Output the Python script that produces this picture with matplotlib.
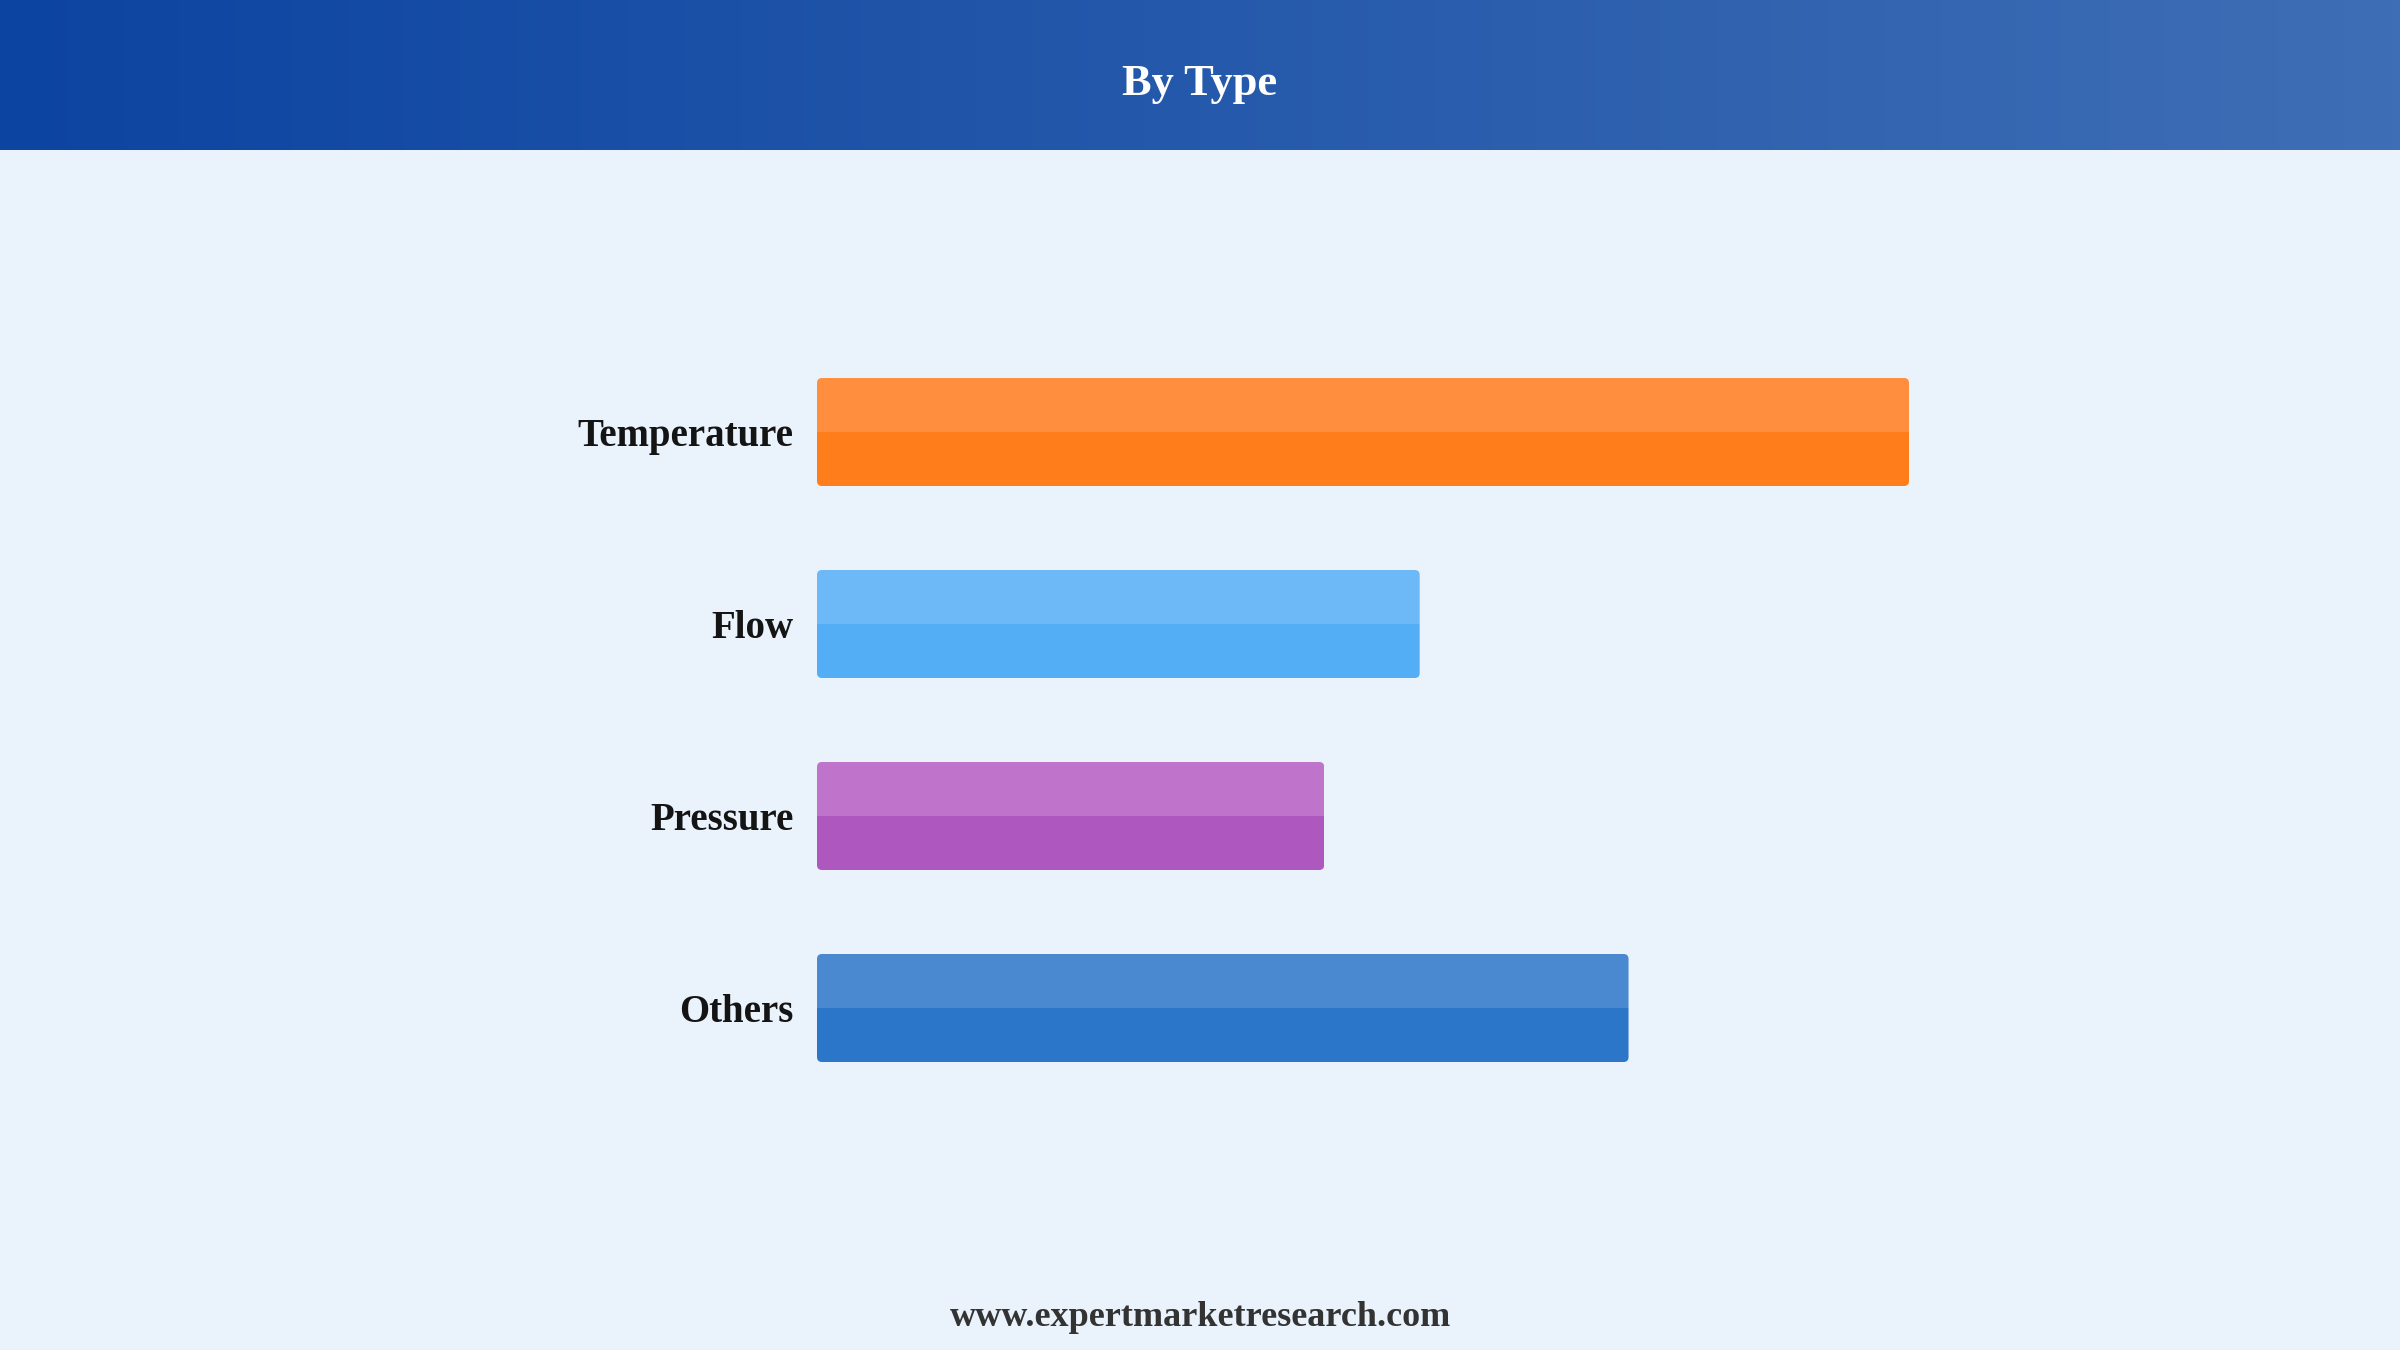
import numpy as np
import matplotlib
import matplotlib.pyplot as plt
from matplotlib.patches import FancyBboxPatch, Rectangle

matplotlib.rcParams["font.family"] = ["Liberation Serif", "DejaVu Serif"]

# =========================
# Data
# =========================
categories = ["Temperature", "Flow", "Pressure", "Others"]
values = [36.6, 20.2, 17.0, 27.2]
top_colors = ["#FF8F3F", "#6DB8F6", "#BF73CB", "#4A88CF"]
bottom_colors = ["#FF7E1B", "#53AEF5", "#AE58BF", "#2B76C8"]

title = "By Type"
footer = "www.expertmarketresearch.com"

W, H = 2400, 1350
fig = plt.figure(figsize=(24, 13.5), dpi=100)
fig.patch.set_facecolor("#EAF2FC")

# =========================
# Header gradient
# =========================
hdr_h = 150
hax = fig.add_axes([0, 1 - hdr_h / H, 1, hdr_h / H])
c0 = np.array([12, 68, 161]) / 255
c1 = np.array([62, 110, 181]) / 255
t = np.linspace(0, 1, 256)
grad = (c0[None, :] * (1 - t[:, None]) + c1[None, :] * t[:, None])[None, :, :]
hax.imshow(grad, aspect="auto", extent=[0, 1, 0, 1])
hax.set_xlim(0, 1)
hax.set_ylim(0, 1)
hax.axis("off")
fig.text(0.5, 1 - 84 / H, title, ha="center", va="center",
         fontsize=32, fontweight="bold", color="white")

# =========================
# Bars
# =========================
x0, x1 = 817, 1909
step = 192
yc0 = 432
ax = fig.add_axes([x0 / W, 1 - (yc0 + 3.5 * step) / H,
                   (x1 - x0) / W, 4 * step / H])
ax.set_facecolor("none")
ypos = np.arange(len(categories))
bh = 108 / step
bars = ax.barh(ypos, values, height=bh, color="none")
ax.set_xlim(0, max(values))
ax.set_ylim(len(categories) - 0.5, -0.5)

# px per data unit for corner rounding
px_x = (x1 - x0) / max(values)
px_y = step
r_px = 5

for b, ct, cb in zip(bars, top_colors, bottom_colors):
    bx, by, bw, bhh = b.get_x(), b.get_y(), b.get_width(), b.get_height()
    for col, clip_y in ((cb, by + bhh / 2), (ct, by)):
        p = FancyBboxPatch((bx, by), bw, bhh,
                           boxstyle=f"round,pad=0,rounding_size={r_px / px_x}",
                           mutation_aspect=px_x / px_y,
                           facecolor=col, edgecolor="none")
        ax.add_patch(p)
        clip = Rectangle((bx, clip_y), bw, bhh / 2, transform=ax.transData)
        p.set_clip_path(clip)

ax.set_yticks(ypos)
ax.set_yticklabels(categories, fontsize=28, fontweight="bold", color="#141414")
ax.tick_params(axis="y", length=0, pad=17)
ax.set_xticks([])
for s in ax.spines.values():
    s.set_visible(False)

# =========================
# Footer
# =========================
fig.text(0.5, 1 - 1318 / H, footer, ha="center", va="center",
         fontsize=26, fontweight="bold", color="#333333")

fig.savefig("out.png", dpi=100, facecolor=fig.get_facecolor())
plt.close(fig)
